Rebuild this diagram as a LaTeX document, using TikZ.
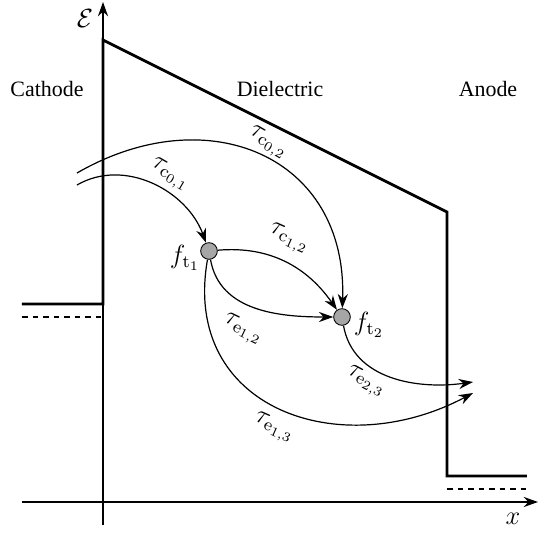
\documentclass[tikz,border=0pt]{standalone}
\usepackage[no-math]{fontspec}
\setmainfont{Liberation Serif}
\usepackage{amsmath}
\usetikzlibrary{arrows.meta,positioning}

\begin{document}
\begin{tikzpicture}[x=0.456pt,y=0.456pt,>={Stealth[length=6.5pt,width=4.6pt]},
  band/.style={line width=1.3pt},
  axis/.style={->,line width=0.8pt},
  level/.style={line width=1pt,dash pattern=on 2.6pt off 2.2pt},
  trans/.style={->,line width=0.55pt},
  trap/.style={circle,draw,fill=gray!70,minimum size=7.6pt,inner sep=0pt},
  rate/.style={font=\large,inner sep=1pt}]
\useasboundingbox (0,0) rectangle (542,-534);
% axes
\draw[axis] (103,-525) -- (103,-2);
\draw[axis] (22,-502) -- (538,-502);
\node[font=\large] (elab) at (85,-19) {$\mathcal{E}$};
\node[font=\large] (xlab) at (513,-519) {$x$};
% band diagram
\draw[band] (22,-304) -- (103,-304) -- (103,-40) -- (447,-212) -- (447,-476) -- (527,-476);
\draw[level] (22,-317) -- (103,-317);
\draw[level] (447,-489) -- (527,-489);
\node (cath) at (47,-89) {Cathode};
\node (diel) at (280,-89) {Dielectric};
\node (anod) at (488,-89) {Anode};
% traps
\node[trap] (t1) at (209,-251) {};
\node[trap] (t2) at (342,-317) {};
\node[rate] (ft1) at (185,-258) {$f_{\mathrm{t}_1}$};
\node[rate] (ft2) at (369,-325) {$f_{\mathrm{t}_2}$};
\coordinate (c01) at (77,-185);
\coordinate (c02) at (77,-173);
\coordinate (e13) at (473,-393);
\coordinate (e23) at (473,-382);
% transitions
\draw[trans] (c01) to[out=30,in=110] (t1);
\draw[trans] (c02) to[out=30,in=88,looseness=1.3] (t2);
\draw[trans] (t1) to[out=5,in=125] (t2);
\draw[trans] (t1) to[out=-80,in=180] (t2);
\draw[trans] (t1) to[out=-100,in=208,looseness=1.3] (e13);
\draw[trans] (t2) to[out=-80,in=188] (e23);
\node[rate,rotate=-30] (lc01) at (170,-175) {$\tau_{\mathrm{c}_{0,1}}$};
\node[rate,rotate=-30] (lc02) at (268,-143) {$\tau_{\mathrm{c}_{0,2}}$};
\node[rate,rotate=-24] (lc12) at (289,-239) {$\tau_{\mathrm{c}_{1,2}}$};
\node[rate,rotate=-26] (le12) at (243,-330) {$\tau_{\mathrm{e}_{1,2}}$};
\node[rate,rotate=-24] (le13) at (274,-428) {$\tau_{\mathrm{e}_{1,3}}$};
\node[rate,rotate=-28] (le23) at (366,-382) {$\tau_{\mathrm{e}_{2,3}}$};
\end{tikzpicture}
\end{document}
